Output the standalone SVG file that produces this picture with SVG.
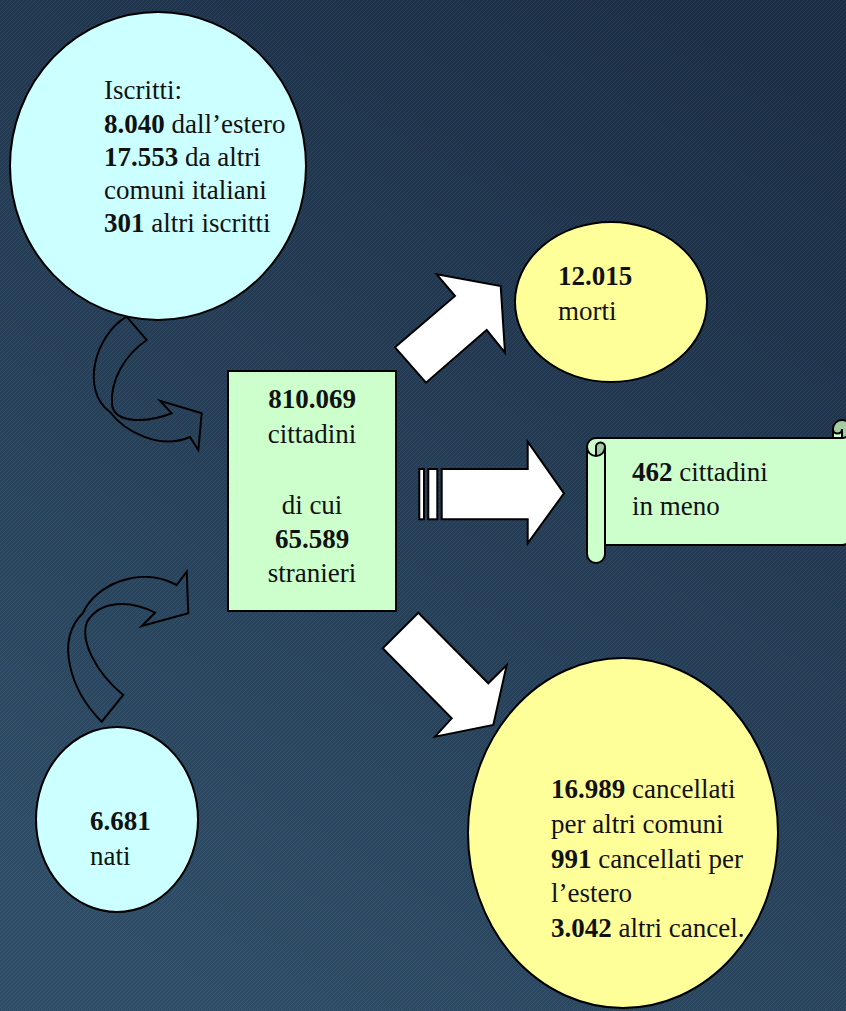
<svg xmlns="http://www.w3.org/2000/svg" width="846" height="1011" viewBox="0 0 846 1011">
<defs>
<linearGradient id="bg" x1="0.75" y1="0" x2="0.25" y2="1">
<stop offset="0" stop-color="#1b2e45"/>
<stop offset="1" stop-color="#2f4d67"/>
</linearGradient>
<pattern id="tex" width="4" height="4" patternUnits="userSpaceOnUse">
<path d="M0,4 L4,0" stroke="#ffffff" stroke-opacity="0.05" stroke-width="1"/>
</pattern>
<style>
.t{font-family:"Liberation Serif","Times New Roman",serif;font-size:27px;fill:#111}
.b{font-weight:bold}
.node{stroke:#000;stroke-width:2}
.arr{fill:#fff;stroke:#000;stroke-width:2;stroke-linejoin:miter}
.curve{fill:none;stroke:#000;stroke-width:2;stroke-linejoin:miter}
</style>
</defs>
<rect width="846" height="1011" fill="url(#bg)"/>
<rect width="846" height="1011" fill="url(#tex)"/>

<g id="connectors">
<path class="curve" d="M126.7,316.7 C95,335 80,390 110,412 C125,432 160,450 190,437 L198.3,450 L201.7,413.3 L160,400.7 L171.7,413.3 C150,422 115,425 112,405 C110,380 125,355 146.7,340 Z"/>
<path class="curve" d="M101.7,721.7 C70,690 55,640 83,613 C95,585 140,565 176.7,585 L186.7,571.7 L188.3,613.3 L141.7,626 L155,612.7 C130,600 100,600 87,622 C80,640 95,672 123.3,695 Z"/>
<polygon class="arr" points="395,347.3 455,296 436.7,274.3 500.7,286 505,352.7 486.7,330 426,382.7"/>
<rect class="arr" x="419.3" y="469" width="4.7" height="50.3"/>
<rect class="arr" x="428.3" y="469" width="9" height="50.3"/>
<polygon class="arr" points="441.7,469 527.7,469 527.7,441.7 564,493.3 527.7,543.3 527.7,519.3 441.7,519.3"/>
<polygon class="arr" points="418.3,612.7 488.3,683.3 506.7,665 493.3,725 435,736.7 451.7,718.3 382.7,648.3"/>
</g>

<g id="iscritti">
<ellipse class="node" cx="158" cy="166" rx="148" ry="154" fill="#ccffff"/>
<text class="t" x="104" y="99">Iscritti:</text>
<text class="t" x="104" y="133"><tspan class="b">8.040</tspan> dall’estero</text>
<text class="t" x="104" y="166"><tspan class="b">17.553</tspan> da altri</text>
<text class="t" x="104" y="199">comuni italiani</text>
<text class="t" x="104" y="232"><tspan class="b">301</tspan> altri iscritti</text>
</g>

<g id="cittadini">
<rect class="node" x="228" y="371" width="168" height="240" fill="#ccffcc"/>
<text class="t b" x="312" y="408" text-anchor="middle">810.069</text>
<text class="t" x="312" y="443" text-anchor="middle">cittadini</text>
<text class="t" x="312" y="514" text-anchor="middle">di cui</text>
<text class="t b" x="312" y="548" text-anchor="middle">65.589</text>
<text class="t" x="312" y="582" text-anchor="middle">stranieri</text>
</g>

<g id="morti">
<ellipse class="node" cx="611" cy="302" rx="96" ry="80" fill="#ffff99"/>
<text class="t b" x="558" y="285">12.015</text>
<text class="t" x="558" y="320">morti</text>
</g>

<g id="saldo">
<path d="M851,429 A9,9 0 0 1 842,438 L842,429 A4.5,4.5 0 0 1 833,429 L833,438 L596,438 A9,9 0 0 0 587,447 L587,554 A9,9 0 0 0 605,554 L605,545 L842,545 A9,9 0 0 0 851,536 Z M596,456 A9,9 0 0 0 605,447 A4.5,4.5 0 0 0 596,447 Z" fill="#ccffcc"/>
<path d="M596,456 A9,9 0 0 0 605,447 A4.5,4.5 0 0 0 596,447 Z M842,438 A9,9 0 1 0 833,429 A4.5,4.5 0 0 0 842,429 Z" fill="#a3cca3"/>
<path d="M587,447 A9,9 0 0 1 596,438 L833,438 L833,429 A9,9 0 0 1 851,429 L851,536 A9,9 0 0 1 842,545 L605,545 L605,554 A9,9 0 0 1 587,554 Z M833,438 L842,438 A9,9 0 0 0 851,429 M842,438 L842,429 A4.5,4.5 0 0 1 833,429 M596,456 L596,447 A4.5,4.5 0 0 1 605,447 A9,9 0 0 1 587,447 M605,447 L605,545" fill="none" stroke="#000" stroke-width="2"/>
<text class="t" x="632" y="481"><tspan class="b">462</tspan> cittadini</text>
<text class="t" x="632" y="515">in meno</text>
</g>

<g id="nati">
<ellipse class="node" cx="117" cy="819.5" rx="81" ry="92.5" fill="#ccffff"/>
<text class="t b" x="90" y="830">6.681</text>
<text class="t" x="90" y="865">nati</text>
</g>

<g id="cancellati">
<ellipse class="node" cx="623" cy="833" rx="155" ry="175" fill="#ffff99"/>
<text class="t" x="551" y="798"><tspan class="b">16.989</tspan> cancellati</text>
<text class="t" x="551" y="833">per altri comuni</text>
<text class="t" x="551" y="867.5"><tspan class="b">991</tspan> cancellati per</text>
<text class="t" x="551" y="902">l’estero</text>
<text class="t" x="551" y="936.5"><tspan class="b">3.042</tspan> altri cancel.</text>
</g>
</svg>
